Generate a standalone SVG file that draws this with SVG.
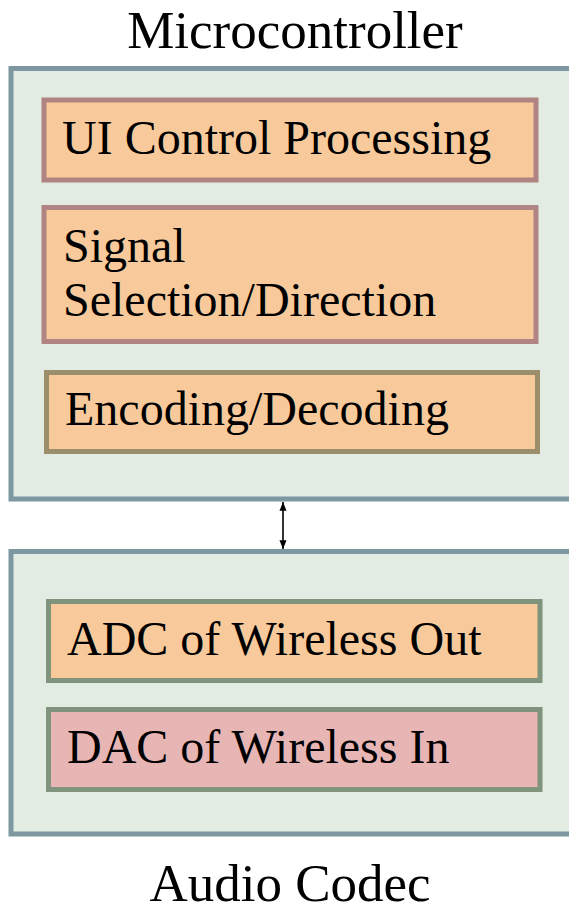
<svg xmlns="http://www.w3.org/2000/svg" width="569" height="907" viewBox="0 0 569 907">
  <style>
    text { font-family: "Liberation Serif", "Times New Roman", serif; fill: #000; }
    .title { font-size: 53px; }
    .label { font-size: 48px; }
    .outer { fill: #e2ece3; stroke: #7d98a0; stroke-width: 5; }
    .blk { stroke-width: 5; }
    .peach { fill: #f8ca9b; }
    .rose { fill: #e8b5b5; }
    .s-mauve { stroke: #b08482; }
    .s-olive { stroke: #9b8f6b; }
    .s-green { stroke: #7f937d; }
    .link { stroke: #000; stroke-width: 1.6; fill: none; }
  </style>
  <defs>
    <marker id="head" viewBox="0 0 10 10" refX="10" refY="5" markerWidth="5.5" markerHeight="5.5" orient="auto-start-reverse" markerUnits="strokeWidth">
      <path d="M0,1 L10,5 L0,9 Z" fill="#000"/>
    </marker>
  </defs>

  <rect width="569" height="907" fill="#fff"/>

  <!-- Microcontroller container -->
  <g id="microcontroller">
    <text class="title" x="295" y="48" text-anchor="middle">Microcontroller</text>
    <rect class="outer" x="11" y="68.5" width="570" height="430.5"/>
  </g>

  <g id="ui-control">
    <rect class="blk peach s-mauve" x="44" y="100" width="492" height="80"/>
    <text class="label" x="62" y="154">UI Control Processing</text>
  </g>

  <g id="signal-selection">
    <rect class="blk peach s-mauve" x="44" y="207.5" width="492" height="134"/>
    <text class="label" x="63" y="262">Signal</text>
    <text class="label" x="63" y="316">Selection/Direction</text>
  </g>

  <g id="encoding">
    <rect class="blk peach s-olive" x="46.5" y="372.5" width="491" height="79"/>
    <text class="label" x="65" y="425">Encoding/Decoding</text>
  </g>

  <!-- Audio codec container -->
  <g id="audio-codec">
    <rect class="outer" x="11" y="551.5" width="570" height="282.5"/>
    <text class="title" x="290" y="901" text-anchor="middle">Audio Codec</text>
  </g>

  <g id="adc">
    <rect class="blk peach s-green" x="48.5" y="601.5" width="491.5" height="79"/>
    <text class="label" x="67" y="655">ADC of Wireless Out</text>
  </g>

  <g id="dac">
    <rect class="blk rose s-green" x="48.5" y="709.5" width="491.5" height="80"/>
    <text class="label" x="67" y="763">DAC of Wireless In</text>
  </g>

  <!-- Bus between the two blocks -->
  <g id="connectors">
    <line class="link" x1="283" y1="502" x2="283" y2="549" marker-start="url(#head)" marker-end="url(#head)"/>
  </g>
</svg>
